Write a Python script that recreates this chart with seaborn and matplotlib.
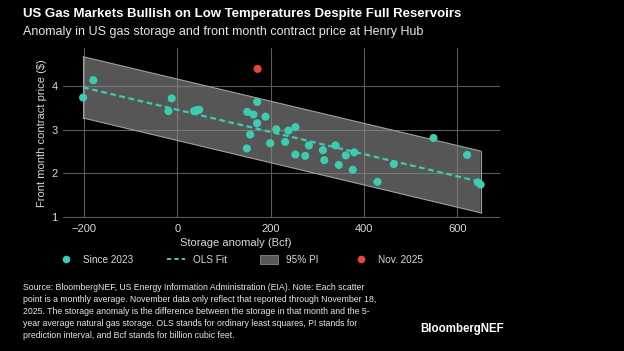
import numpy as np
import pandas as pd
import matplotlib
matplotlib.use("Agg")
import matplotlib.pyplot as plt
from matplotlib.lines import Line2D
from matplotlib.patches import Patch
import seaborn as sns

# ---- data ----
storage_anomaly = [-202, -180, -19, -12, 36, 41, 47, 171, 150, 163, 189, 171, 212, 238, 253,
                   156, 199, 231, 149, 253, 274, 282, 312, 315, 339, 361, 346, 379, 376,
                   464, 429, 549, 621, 644, 650]
front_month_price = [3.74, 4.14, 3.43, 3.72, 3.43, 3.45, 3.46, 3.64, 3.41, 3.35, 3.30, 3.15, 3.01, 2.98, 3.06,
                     2.89, 2.69, 2.72, 2.57, 2.43, 2.40, 2.64, 2.53, 2.30, 2.64, 2.41, 2.19, 2.48, 2.08,
                     2.21, 1.80, 2.81, 2.42, 1.79, 1.74]
nov2025_x = [172]
nov2025_y = [4.40]
fit_x = [-202, 650]
fit_y = [3.975, 1.80]
pi_lower = [3.27, 1.09]
pi_upper = [4.68, 2.51]
x_ticks = [-200, 0, 200, 400, 600]
y_ticks = [1, 2, 3, 4]

TEAL = "#3ccdb0"
RED = "#e8463c"
BG = "black"

sns.set_theme(style="dark")
plt.rcParams["font.family"] = ["Liberation Sans", "DejaVu Sans"]
plt.rcParams["axes.unicode_minus"] = True

fig = plt.figure(figsize=(6.24, 3.51), dpi=100, facecolor=BG)
ax = fig.add_axes([63 / 624, 133 / 351, 437 / 624, 170 / 351])
ax.set_facecolor(BG)

df = pd.DataFrame({"x": storage_anomaly, "y": front_month_price})
dn = pd.DataFrame({"x": nov2025_x, "y": nov2025_y})
dfit = pd.DataFrame({"x": fit_x, "y": fit_y, "lo": pi_lower, "hi": pi_upper})

ax.fill_between(dfit["x"], dfit["lo"], dfit["hi"], facecolor="#8c8c8c", alpha=0.62,
                edgecolor="none", zorder=2)
ax.plot(dfit["x"], dfit["lo"], color="#a0a0a0", lw=0.8, zorder=2.1)
ax.plot(dfit["x"], dfit["hi"], color="#a0a0a0", lw=0.8, zorder=2.1)
ax.plot([fit_x[0], fit_x[0]], [pi_lower[0], pi_upper[0]], color="#a0a0a0", lw=0.8, zorder=2.1)
ax.plot([fit_x[-1], fit_x[-1]], [pi_lower[-1], pi_upper[-1]], color="#a0a0a0", lw=0.8, zorder=2.1)

sns.lineplot(data=dfit, x="x", y="y", ax=ax, color=TEAL, lw=1.6, zorder=3,
             dashes=False).lines[-1].set_dashes((2.6, 1.6))
sns.scatterplot(data=df, x="x", y="y", ax=ax, color=TEAL, s=34, edgecolor="none", zorder=4)
sns.scatterplot(data=dn, x="x", y="y", ax=ax, color=RED, s=34, edgecolor="none", zorder=4)

ax.set_xlim(-245, 691.5)
ax.set_ylim(0.97, 4.88)
ax.set_xticks(x_ticks)
ax.set_yticks(y_ticks)
ax.set_xticklabels([f"{v:d}".replace("-", "\u2212") for v in x_ticks])
ax.grid(True, color="#5a5a5a", lw=0.8)
ax.set_axisbelow(True)
for s in ax.spines.values():
    s.set_visible(False)
ax.tick_params(axis="both", length=0, colors="#d9d9d9", labelsize=8)
ax.tick_params(axis="x", pad=4)
ax.tick_params(axis="y", pad=4)

ax.set_xlabel("Storage anomaly (Bcf)", color="#d9d9d9", fontsize=8)
ax.set_ylabel("Front month contract price ($)", color="#d9d9d9", fontsize=8)
ax.xaxis.set_label_coords((236 - 63) / 437, -0.115)
ax.yaxis.set_label_coords(-0.036, 0.5)

# legend
handles = [
    Line2D([0], [0], marker="o", color="none", markerfacecolor=TEAL, markeredgecolor="none", markersize=5.5),
    Line2D([0], [0], color=TEAL, lw=1.4, dashes=(2.2, 1.6)),
    Patch(facecolor="#595959", edgecolor="#8a8a8a", lw=0.6),
    Line2D([0], [0], marker="o", color="none", markerfacecolor=RED, markeredgecolor="none", markersize=5.5),
]
labels = ["Since 2023", "OLS Fit", "95% PI", "Nov. 2025"]
leg = fig.legend(handles, labels, loc="center left", bbox_to_anchor=(57 / 624, 1 - 260 / 351),
                 ncol=4, frameon=False, fontsize=7.2, labelcolor="#d9d9d9",
                 handlelength=1.85, handleheight=0.9, handletextpad=0.78, columnspacing=3.3,
                 borderaxespad=0, borderpad=0)

fig.text(23 / 624, 1 - 14 / 351, "US Gas Markets Bullish on Low Temperatures Despite Full Reservoirs",
         color="white", fontsize=9.5, fontweight="bold", va="center", ha="left")
fig.text(23 / 624, 1 - 32 / 351, "Anomaly in US gas storage and front month contract price at Henry Hub",
         color="#e6e6e6", fontsize=9.0, va="center", ha="left")

note = ("Source: BloombergNEF, US Energy Information Administration (EIA). Note: Each scatter\n"
        "point is a monthly average. November data only reflect that reported through November 18,\n"
        "2025. The storage anomaly is the difference between the storage in that month and the 5-\n"
        "year average natural gas storage. OLS stands for ordinary least squares, PI stands for\n"
        "prediction interval, and Bcf stands for billion cubic feet.")
fig.text(23 / 624, 1 - 283 / 351, note, color="#e6e6e6", fontsize=6.3, va="top", ha="left",
         linespacing=1.42)
fig.text(504 / 624, 1 - 329 / 351, "BloombergNEF", color="white", fontsize=8.3, fontweight="bold",
         va="center", ha="right")

fig.savefig("out.png", dpi=100, facecolor=BG)
